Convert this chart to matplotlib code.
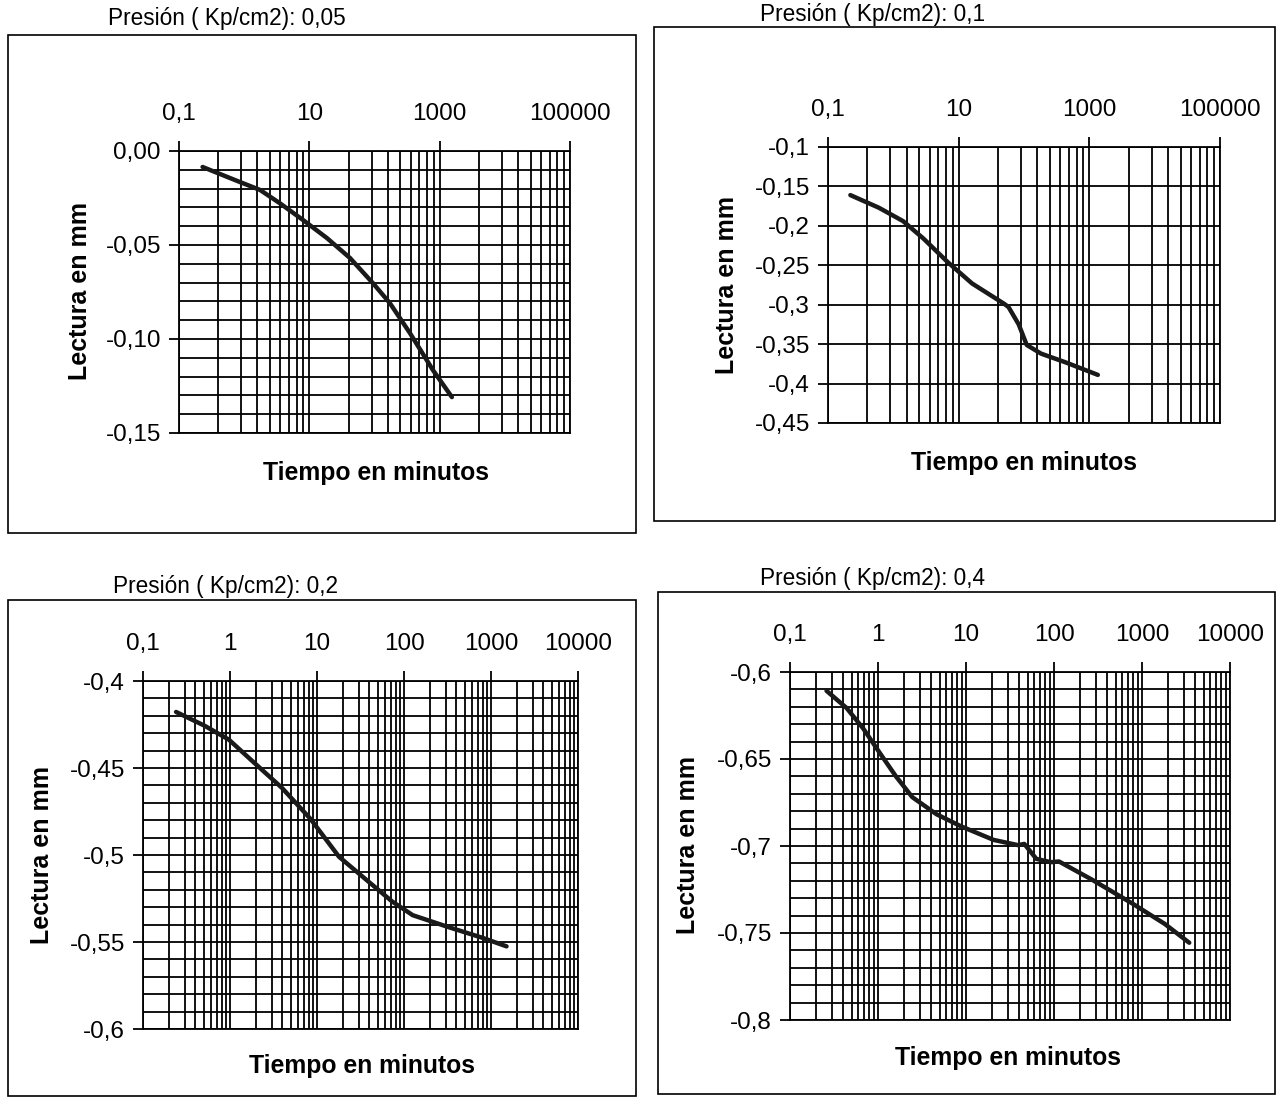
import matplotlib
matplotlib.use("Agg")
import matplotlib.pyplot as plt
from matplotlib.patches import Rectangle
from matplotlib.ticker import FixedLocator, FixedFormatter, NullFormatter, NullLocator

W, H = 1277, 1098
plt.rcParams["font.family"] = ["Liberation Sans", "DejaVu Sans"]

# readings taken off the four consolidation curves (time in minutes, reading in mm)
titles = [
    "Presión ( Kp/cm2): 0,05",
    "Presión ( Kp/cm2): 0,1",
    "Presión ( Kp/cm2): 0,2",
    "Presión ( Kp/cm2): 0,4",
]

t_005 = [0.23, 0.86, 1.75, 3.5, 8.0, 18.6, 42, 94, 172, 349, 787, 1540]
r_005 = [-0.0085, -0.0165, -0.0207, -0.0277, -0.0367, -0.0463, -0.0569, -0.0702,
         -0.0809, -0.0968, -0.1165, -0.1309]

t_01 = [0.22, 0.60, 1.41, 2.88, 6.8, 16, 50, 58, 83, 110, 182, 430, 1350]
r_01 = [-0.161, -0.177, -0.194, -0.216, -0.246, -0.273, -0.299, -0.303, -0.325,
        -0.351, -0.362, -0.373, -0.389]

t_02 = [0.24, 0.51, 0.97, 1.85, 3.95, 8.4, 17.9, 38, 73, 126, 332, 788, 1508]
r_02 = [-0.4178, -0.4257, -0.4337, -0.4465, -0.4614, -0.4792, -0.501, -0.5148,
        -0.5267, -0.5346, -0.5416, -0.5475, -0.5525]

t_04 = [0.26, 0.44, 0.68, 1.04, 1.6, 2.45, 4.64, 8.8, 20.6, 39, 46, 63, 92, 114,
        267, 774, 1816, 3443]
r_04 = [-0.6108, -0.6207, -0.6325, -0.6463, -0.660, -0.6719, -0.6818, -0.6887,
        -0.6965, -0.6995, -0.6988, -0.7074, -0.7093, -0.7089, -0.7192, -0.733,
        -0.7448, -0.7556]

# axis ticks and labels
x_ticks_wide = [0.1, 10, 1000, 100000]
x_labels_wide = ["0,1", "10", "1000", "100000"]
x_ticks_narrow = [0.1, 1, 10, 100, 1000, 10000]
x_labels_narrow = ["0,1", "1", "10", "100", "1000", "10000"]

y_ticks_005 = [0.0, -0.05, -0.10, -0.15]
y_labels_005 = ["0,00", "-0,05", "-0,10", "-0,15"]
y_ticks_01 = [-0.1, -0.15, -0.2, -0.25, -0.3, -0.35, -0.4, -0.45]
y_labels_01 = ["-0,1", "-0,15", "-0,2", "-0,25", "-0,3", "-0,35", "-0,4", "-0,45"]
y_ticks_02 = [-0.4, -0.45, -0.5, -0.55, -0.6]
y_labels_02 = ["-0,4", "-0,45", "-0,5", "-0,55", "-0,6"]
y_ticks_04 = [-0.6, -0.65, -0.7, -0.75, -0.8]
y_labels_04 = ["-0,6", "-0,65", "-0,7", "-0,75", "-0,8"]

# Excel log axis with major unit 100: each major interval drawn like one decade
minor_wide = [0.1 * 100 ** n * k ** 2 for n in range(3) for k in range(2, 10)]
minor_narrow = [k * 10.0 ** n for n in range(-1, 4) for k in range(2, 10)]


def fig_text(fig, x, y, s, **kw):
    fig.text(x / W, 1 - y / H, s, **kw)


def border(fig, l, t, r, b):
    fig.add_artist(Rectangle((l / W, 1 - b / H), (r - l) / W, (b - t) / H,
                             transform=fig.transFigure, fill=False,
                             ec="black", lw=1.2))


def panel(fig, rect, times, readings, xticks, xlabels, xminor, yticks, ylabels, yminor):
    l, t, r, b = rect
    ax = fig.add_axes([l / W, 1 - b / H, (r - l) / W, (b - t) / H])
    ax.set_xscale("log")
    ax.set_xlim(xticks[0], xticks[-1])
    ax.set_ylim(yticks[-1], yticks[0])

    ax.xaxis.set_major_locator(FixedLocator(xticks))
    ax.xaxis.set_major_formatter(FixedFormatter(xlabels))
    ax.xaxis.set_minor_locator(FixedLocator(xminor))
    ax.xaxis.set_minor_formatter(NullFormatter())
    ax.yaxis.set_major_locator(FixedLocator(yticks))
    ax.yaxis.set_major_formatter(FixedFormatter(ylabels))
    if yminor:
        ax.yaxis.set_minor_locator(FixedLocator(yminor))
    else:
        ax.yaxis.set_minor_locator(NullLocator())

    ax.set_axisbelow(True)
    ax.grid(True, which="both", color="black", lw=1.3)
    ax.xaxis.tick_top()
    ax.tick_params(axis="x", which="major", direction="out", length=7, width=1.3,
                   pad=12, labelsize=17.5)
    ax.tick_params(axis="y", which="major", direction="out", length=7, width=1.3,
                   pad=6, labelsize=17.5)
    ax.tick_params(which="minor", length=0)
    for sp in ax.spines.values():
        sp.set_color("black")
        sp.set_linewidth(1.3)

    ax.plot(times, readings, color="#1a1a1a", lw=3.2, solid_capstyle="round",
            solid_joinstyle="round")
    return ax


def minor_steps(top, bottom):
    n = int(round((top - bottom) / 0.01))
    return [round(top - i * 0.01, 2) for i in range(n + 1)]


fig = plt.figure(figsize=(W / 100, H / 100), dpi=100)

# chart frames
border(fig, 8, 35, 636, 533)
border(fig, 654, 27, 1275, 521)
border(fig, 8, 600, 636, 1096)
border(fig, 658, 592, 1275, 1094)

panel(fig, (179, 151, 570, 433), t_005, r_005, x_ticks_wide, x_labels_wide,
      minor_wide, y_ticks_005, y_labels_005, minor_steps(0.0, -0.15))
panel(fig, (828, 147, 1220, 423), t_01, r_01, x_ticks_wide, x_labels_wide,
      minor_wide, y_ticks_01, y_labels_01, None)
panel(fig, (143, 681, 578, 1029), t_02, r_02, x_ticks_narrow, x_labels_narrow,
      minor_narrow, y_ticks_02, y_labels_02, minor_steps(-0.4, -0.6))
panel(fig, (790, 672, 1230, 1020), t_04, r_04, x_ticks_narrow, x_labels_narrow,
      minor_narrow, y_ticks_04, y_labels_04, minor_steps(-0.6, -0.8))

# titles sit on top of each frame line
title_pos = [(108, 19), (760, 14), (113, 586), (760, 579)]
for (x, y), s in zip(title_pos, titles):
    fig_text(fig, x, y, s, fontsize=16.3, ha="left", va="center")

ylabel_pos = [(80, 291), (727, 285), (42, 855), (688, 845)]
for x, y in ylabel_pos:
    fig_text(fig, x, y, "Lectura en mm", fontsize=18, fontweight="bold",
             rotation=90, ha="center", va="center")

xlabel_pos = [(376, 473), (1024, 463), (362, 1066), (1008, 1058)]
for x, y in xlabel_pos:
    fig_text(fig, x, y, "Tiempo en minutos", fontsize=17.8, fontweight="bold",
             ha="center", va="center")

fig.savefig("out.png", dpi=100)
